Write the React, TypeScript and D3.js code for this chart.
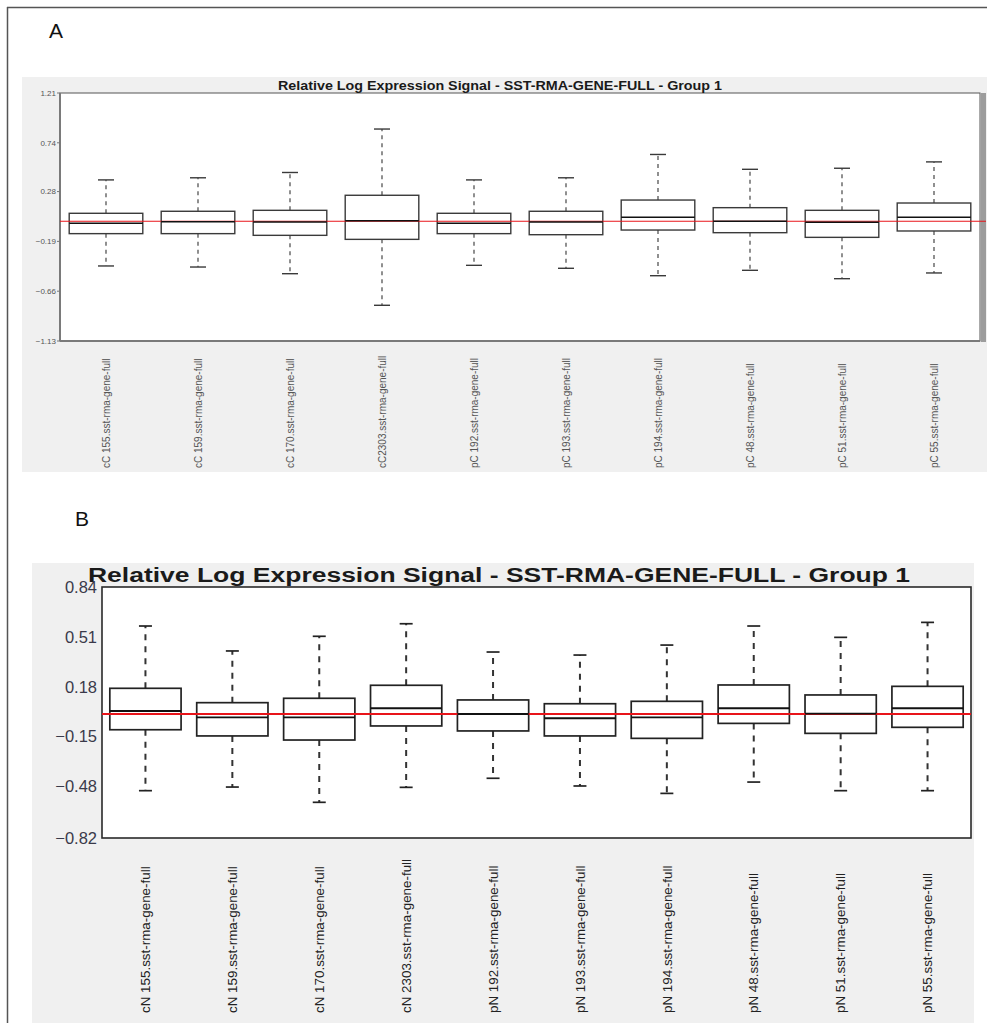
import React from "react";
import * as d3 from "d3";

// ---------- Panel A data ----------
const samplesA = [
  "cC 155.sst-rma-gene-full",
  "cC 159.sst-rma-gene-full",
  "cC 170.sst-rma-gene-full",
  "cC2303.sst-rma-gene-full",
  "pC 192.sst-rma-gene-full",
  "pC 193.sst-rma-gene-full",
  "pC 194.sst-rma-gene-full",
  "pC 48.sst-rma-gene-full",
  "pC 51.sst-rma-gene-full",
  "pC 55.sst-rma-gene-full",
];
const upperWhiskerA = [0.39, 0.41, 0.46, 0.87, 0.39, 0.41, 0.63, 0.49, 0.5, 0.56];
const q3A = [0.075, 0.094, 0.103, 0.245, 0.075, 0.094, 0.2, 0.128, 0.103, 0.172];
const medianA = [-0.019, -0.004, -0.007, 0.005, -0.019, -0.007, 0.037, 0.0, -0.01, 0.037];
const q1A = [-0.117, -0.117, -0.133, -0.171, -0.117, -0.127, -0.083, -0.108, -0.152, -0.092];
const lowerWhiskerA = [-0.422, -0.432, -0.495, -0.793, -0.416, -0.444, -0.514, -0.463, -0.542, -0.488];
const yTicksA = [1.21, 0.74, 0.28, -0.19, -0.66, -1.13];
const yDomainA: [number, number] = [-1.13, 1.21];

// ---------- Panel B data ----------
const samplesB = [
  "cN 155.sst-rma-gene-full",
  "cN 159.sst-rma-gene-full",
  "cN 170.sst-rma-gene-full",
  "cN 2303.sst-rma-gene-full",
  "pN 192.sst-rma-gene-full",
  "pN 193.sst-rma-gene-full",
  "pN 194.sst-rma-gene-full",
  "pN 48.sst-rma-gene-full",
  "pN 51.sst-rma-gene-full",
  "pN 55.sst-rma-gene-full",
];
const upperWhiskerB = [0.582, 0.417, 0.514, 0.597, 0.41, 0.39, 0.456, 0.582, 0.507, 0.606];
const q3B = [0.17, 0.075, 0.104, 0.19, 0.093, 0.068, 0.084, 0.192, 0.126, 0.183];
const medianB = [0.02, -0.022, -0.022, 0.038, 0.0, -0.028, -0.022, 0.038, 0.002, 0.038];
const q1B = [-0.104, -0.145, -0.172, -0.079, -0.112, -0.145, -0.161, -0.062, -0.128, -0.088];
const lowerWhiskerB = [-0.507, -0.483, -0.584, -0.485, -0.425, -0.476, -0.525, -0.45, -0.507, -0.507];
const yTicksB = [0.84, 0.51, 0.18, -0.15, -0.48, -0.82];
const yDomainB: [number, number] = [-0.82, 0.84];

const referenceValue = 0;
const chartTitle = "Relative Log Expression Signal - SST-RMA-GENE-FULL - Group 1";

type PanelProps = {
  samples: string[];
  upper: number[];
  q3: number[];
  median: number[];
  q1: number[];
  lower: number[];
  ticks: number[];
  domain: [number, number];
  bg: { x: number; y: number; w: number; h: number };
  plot: { left: number; right: number; top: number; bottom: number };
  title: { x: number; y: number; size: number; len: number };
  tickFont: number;
  tickColor: string;
  tickRight: number;
  labelFont: number;
  labelBottom: number;
  labelColor: string;
  boxFrac: number;
  capW: number;
  boxStroke: string;
  boxWidth: number;
  whiskerStroke: string;
  whiskerWidth: number;
  dash: string;
  refWidth: number;
  variant: "A" | "B";
};

function Panel(p: PanelProps) {
  const x = d3.scaleBand<string>().domain(p.samples).range([p.plot.left, p.plot.right]).padding(0);
  const y = d3.scaleLinear().domain(p.domain).range([p.plot.bottom, p.plot.top]);
  const bw = x.bandwidth() * p.boxFrac;
  const fmt = d3.format(".2f");
  const font = "'Liberation Sans', Arial, sans-serif";
  return (
    <g>
      <rect x={p.bg.x} y={p.bg.y} width={p.bg.w} height={p.bg.h} fill="#f0f0f0" />
      <rect
        x={p.plot.left}
        y={p.plot.top}
        width={p.plot.right - p.plot.left}
        height={p.plot.bottom - p.plot.top}
        fill="#ffffff"
        stroke={p.variant === "A" ? "#555" : "#2a2a2a"}
        strokeWidth={p.variant === "A" ? 1 : 1.6}
      />
      {p.variant === "A" && (
        <g>
          <line x1={p.plot.left} x2={p.plot.left} y1={p.plot.top} y2={p.plot.bottom} stroke="#7a7a7a" strokeWidth={2} />
          <line x1={p.plot.left} x2={p.plot.right} y1={p.plot.bottom} y2={p.plot.bottom} stroke="#7a7a7a" strokeWidth={2} />
          <rect x={p.plot.right + 1} y={p.plot.top} width={5} height={p.plot.bottom - p.plot.top + 1} fill="#9c9c9c" />
          {p.ticks.map((t) => (
            <line key={"tk" + t} x1={p.plot.left - 3} x2={p.plot.left} y1={y(t)} y2={y(t)} stroke="#777" strokeWidth={1} />
          ))}
        </g>
      )}
      <text
        x={p.title.x}
        y={p.title.y}
        fontFamily={font}
        fontWeight="bold"
        fontSize={p.title.size}
        fill="#1a1a1a"
        textAnchor="middle"
        textLength={p.title.len}
        lengthAdjust="spacingAndGlyphs"
      >
        {chartTitle}
      </text>
      {p.ticks.map((t) => (
        <text
          key={"tl" + t}
          x={p.tickRight}
          y={y(t)}
          dy="0.35em"
          fontFamily={font}
          fontSize={p.tickFont}
          fill={p.tickColor}
          textAnchor="end"
        >
          {fmt(t)}
        </text>
      ))}
      {p.samples.map((s, i) => {
        const cx = (x(s) as number) + x.bandwidth() / 2;
        return (
          <g key={s}>
            <line x1={cx} x2={cx} y1={y(p.q3[i])} y2={y(p.upper[i])} stroke={p.whiskerStroke} strokeWidth={p.whiskerWidth} strokeDasharray={p.dash} />
            <line x1={cx} x2={cx} y1={y(p.q1[i])} y2={y(p.lower[i])} stroke={p.whiskerStroke} strokeWidth={p.whiskerWidth} strokeDasharray={p.dash} />
            <line x1={cx - p.capW / 2} x2={cx + p.capW / 2} y1={y(p.upper[i])} y2={y(p.upper[i])} stroke={p.boxStroke} strokeWidth={p.boxWidth} />
            <line x1={cx - p.capW / 2} x2={cx + p.capW / 2} y1={y(p.lower[i])} y2={y(p.lower[i])} stroke={p.boxStroke} strokeWidth={p.boxWidth} />
            <rect
              x={cx - bw / 2}
              y={y(p.q3[i])}
              width={bw}
              height={y(p.q1[i]) - y(p.q3[i])}
              fill="none"
              stroke={p.boxStroke}
              strokeWidth={p.boxWidth}
            />
            <text
              transform={`translate(${cx},${p.labelBottom}) rotate(-90)`}
              dy="0.35em"
              fontFamily={font}
              fontSize={p.labelFont}
              fill={p.labelColor}
              textAnchor="start"
            >
              {s}
            </text>
          </g>
        );
      })}
      <line
        x1={p.plot.left}
        x2={p.variant === "A" ? p.plot.right + 6 : p.plot.right}
        y1={y(referenceValue)}
        y2={y(referenceValue)}
        stroke="#e8141a"
        strokeWidth={p.refWidth}
      />
      {p.samples.map((s, i) => {
        const cx = (x(s) as number) + x.bandwidth() / 2;
        return (
          <line
            key={"m" + s}
            x1={cx - bw / 2}
            x2={cx + bw / 2}
            y1={y(p.median[i])}
            y2={y(p.median[i])}
            stroke="#111"
            strokeWidth={p.variant === "A" ? 1.5 : 1.8}
          />
        );
      })}
    </g>
  );
}

export default function App() {
  const font = "'Liberation Sans', Arial, sans-serif";
  return (
    <svg
      width={987}
      height={1023}
      style={{ position: "absolute", left: 0, top: 0, background: "#fff" }}
    >
      <rect x={0} y={0} width={987} height={1023} fill="#fff" />
      <line x1={7.5} x2={7.5} y1={7} y2={1023} stroke="#555" strokeWidth={1.5} />
      <line x1={7} x2={987} y1={7.5} y2={7.5} stroke="#555" strokeWidth={1.5} />
      <text x={49} y={38} fontFamily={font} fontSize={21} fill="#111">A</text>
      <text x={75} y={526} fontFamily={font} fontSize={21} fill="#111">B</text>
      <Panel
        samples={samplesA}
        upper={upperWhiskerA}
        q3={q3A}
        median={medianA}
        q1={q1A}
        lower={lowerWhiskerA}
        ticks={yTicksA}
        domain={yDomainA}
        bg={{ x: 22, y: 77, w: 965, h: 395 }}
        plot={{ left: 60, right: 980, top: 93, bottom: 341 }}
        title={{ x: 500, y: 90, size: 12.5, len: 444 }}
        tickFont={8}
        tickColor="#555"
        tickRight={56}
        labelFont={10}
        labelBottom={468}
        labelColor="#555"
        boxFrac={0.8}
        capW={16}
        boxStroke="#3a3a3a"
        boxWidth={1.4}
        whiskerStroke="#555"
        whiskerWidth={1.3}
        dash="4,4"
        refWidth={1.2}
        variant="A"
      />
      <Panel
        samples={samplesB}
        upper={upperWhiskerB}
        q3={q3B}
        median={medianB}
        q1={q1B}
        lower={lowerWhiskerB}
        ticks={yTicksB}
        domain={yDomainB}
        bg={{ x: 32, y: 563, w: 942, h: 460 }}
        plot={{ left: 102, right: 971, top: 587, bottom: 838 }}
        title={{ x: 499, y: 582, size: 20, len: 822 }}
        tickFont={16.5}
        tickColor="#3a3a4a"
        tickRight={97}
        labelFont={13.4}
        labelBottom={1013}
        labelColor="#222"
        boxFrac={0.82}
        capW={13}
        boxStroke="#222"
        boxWidth={1.7}
        whiskerStroke="#333"
        whiskerWidth={2}
        dash="6,6"
        refWidth={1.8}
        variant="B"
      />
    </svg>
  );
}
